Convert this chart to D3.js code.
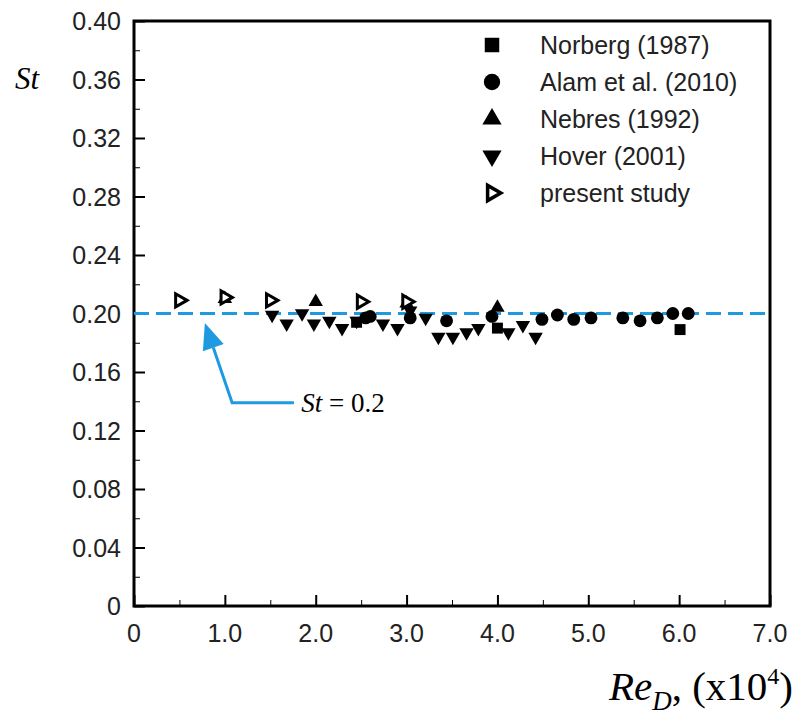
<!DOCTYPE html>
<html>
<head>
<meta charset="utf-8">
<script src="https://cdn.jsdelivr.net/npm/d3@7"></script>
<style>
  body { margin: 0; background: #fff; }
  svg text { font-family: "Liberation Sans", Arial, sans-serif; }
</style>
</head>
<body>
<div id="chart"></div>
<script>
// data: [Re_D (x10^4), St]
var norberg = [[2.45, 0.194], [4.0, 0.190], [6.01, 0.189]];
var alam = [[2.55, 0.197], [2.6, 0.198], [3.04, 0.197], [3.44, 0.195], [3.94, 0.198], [4.49, 0.196],
            [4.66, 0.199], [4.84, 0.196], [5.03, 0.197], [5.38, 0.197], [5.57, 0.195],
            [5.76, 0.197], [5.93, 0.200], [6.1, 0.200]];
var nebres = [[1.0, 0.210], [2.0, 0.208], [3.0, 0.207], [4.0, 0.204]];
var hover = [[1.52, 0.199], [1.68, 0.193], [1.85, 0.200], [1.98, 0.193], [2.15, 0.195], [2.29, 0.190],
             [2.45, 0.195], [2.74, 0.193], [2.9, 0.190], [3.04, 0.202], [3.21, 0.197], [3.35, 0.184],
             [3.51, 0.184], [3.66, 0.187], [3.79, 0.190], [4.12, 0.187], [4.28, 0.192], [4.42, 0.184]];
var present = [[0.5, 0.209], [1.0, 0.211], [1.5, 0.209], [2.5, 0.208], [3.0, 0.208]];

var xTicks = [0, 1, 2, 3, 4, 5, 6, 7];
var xTickLabels = ["0", "1.0", "2.0", "3.0", "4.0", "5.0", "6.0", "7.0"];
var yTicks = [0, 0.04, 0.08, 0.12, 0.16, 0.2, 0.24, 0.28, 0.32, 0.36, 0.4];
var yTickLabels = ["0", "0.04", "0.08", "0.12", "0.16", "0.20", "0.24", "0.28", "0.32", "0.36", "0.40"];
var refSt = 0.2;
var legendNames = ["Norberg (1987)", "Alam et al. (2010)", "Nebres (1992)", "Hover (2001)", "present study"];

var width = 800, height = 719;
var svg = d3.select("#chart").append("svg").attr("width", width).attr("height", height);
var serif = "'Liberation Serif', 'Times New Roman', serif";

var x = d3.scaleLinear().domain([0, 7]).range([134, 770]);
var y = d3.scaleLinear().domain([0, 0.4]).range([606, 21]);

// minor + major ticks, all pointing inward
var xMinor = d3.range(0.5, 7, 1);
var yMinor = d3.range(0.02, 0.4, 0.04);

svg.append("g").attr("transform", "translate(0,606)")
    .call(d3.axisTop(x).tickValues(xMinor).tickSize(6).tickFormat(""))
    .call(g => g.select(".domain").remove())
    .selectAll("line").attr("stroke", "#000").attr("stroke-width", 1);
svg.append("g").attr("transform", "translate(0,606)")
    .call(d3.axisTop(x).tickValues(xTicks).tickSize(11).tickFormat(""))
    .call(g => g.select(".domain").remove())
    .selectAll("line").attr("stroke", "#000").attr("stroke-width", 2);
svg.append("g").attr("transform", "translate(134,0)")
    .call(d3.axisRight(y).tickValues(yMinor).tickSize(6).tickFormat(""))
    .call(g => g.select(".domain").remove())
    .selectAll("line").attr("stroke", "#000").attr("stroke-width", 1);
svg.append("g").attr("transform", "translate(134,0)")
    .call(d3.axisRight(y).tickValues(yTicks).tickSize(11).tickFormat(""))
    .call(g => g.select(".domain").remove())
    .selectAll("line").attr("stroke", "#000").attr("stroke-width", 2);

// tick labels
svg.append("g").selectAll("text").data(xTicks).enter().append("text")
    .attr("x", d => x(d)).attr("y", 642)
    .attr("text-anchor", "middle").attr("font-size", 25).attr("fill", "#222")
    .text((d, i) => xTickLabels[i]);
svg.append("g").selectAll("text").data(yTicks).enter().append("text")
    .attr("x", 121).attr("y", d => y(d) + 9)
    .attr("text-anchor", "end").attr("font-size", 25).attr("fill", "#222")
    .text((d, i) => yTickLabels[i]);

// frame
svg.append("rect").attr("x", 134).attr("y", 21).attr("width", 636).attr("height", 585)
    .attr("fill", "none").attr("stroke", "#000").attr("stroke-width", 3);

// reference line St = 0.2
var blue = "#1f9ae0";
svg.append("line")
    .attr("x1", x(0)).attr("x2", x(7)).attr("y1", y(refSt)).attr("y2", y(refSt))
    .attr("stroke", blue).attr("stroke-width", 3).attr("stroke-dasharray", "15,7");

// markers
var sq = d3.symbol().type(d3.symbolSquare).size(120);
var ci = d3.symbol().type(d3.symbolCircle).size(130);
var tr = d3.symbol().type(d3.symbolTriangle).size(90);
var rt = d3.symbol().type(d3.symbolTriangle).size(75);

function plot(data, path, rot, fill, stroke) {
    svg.append("g").selectAll("path").data(data).enter().append("path")
        .attr("d", path)
        .attr("transform", d => "translate(" + x(d[0]) + "," + y(d[1]) + ") rotate(" + rot + ")")
        .attr("fill", fill).attr("stroke", stroke).attr("stroke-width", stroke == "none" ? 0 : 3);
}
plot(hover, tr, 180, "#000", "none");
plot(norberg, sq, 0, "#000", "none");
plot(alam, ci, 0, "#000", "none");
plot(nebres, tr, 0, "#000", "none");
plot(present, rt, 90, "#fff", "#000");

// annotation arrow
var ann = [[1.76, 0.139], [1.08, 0.139], [0.78, 0.1935]];
var tip = [x(ann[2][0]), y(ann[2][1])];
var ang = Math.atan2(y(ann[1][1]) - tip[1], x(ann[1][0]) - tip[0]);
var hl = 26, hw = 11;
var bx = tip[0] + hl * Math.cos(ang), by = tip[1] + hl * Math.sin(ang);
svg.append("path")
    .attr("d", d3.line()([[x(ann[0][0]), y(ann[0][1])], [x(ann[1][0]), y(ann[1][1])], [bx, by]]))
    .attr("fill", "none").attr("stroke", blue).attr("stroke-width", 3);
svg.append("path")
    .attr("d", "M" + tip[0] + "," + tip[1] +
        "L" + (bx - hw * Math.sin(ang)) + "," + (by + hw * Math.cos(ang)) +
        "L" + (bx + hw * Math.sin(ang)) + "," + (by - hw * Math.cos(ang)) + "Z")
    .attr("fill", blue);

var annText = svg.append("text").attr("x", x(1.84)).attr("y", y(0.139) + 9)
    .attr("font-size", 27).style("font-family", serif);
annText.append("tspan").attr("font-style", "italic").text("St");
annText.append("tspan").text(" = 0.2");

// axis titles
svg.append("text").attr("x", 15).attr("y", 89).attr("font-size", 31)
    .style("font-family", serif).attr("font-style", "italic").text("St");

var xt = svg.append("text").attr("x", 793).attr("y", 700).attr("text-anchor", "end")
    .attr("font-size", 41).style("font-family", serif);
xt.append("tspan").attr("font-style", "italic").text("Re");
xt.append("tspan").attr("font-style", "italic").attr("font-size", 27).attr("dy", 10).text("D");
xt.append("tspan").attr("dy", -10).text(", (x10");
xt.append("tspan").attr("font-size", 24).attr("dy", -16).text("4");
xt.append("tspan").attr("dy", 16).text(")");

// legend
var legY = d3.scalePoint().domain(legendNames).range([45, 193]);
var legShapes = [
    {p: d3.symbol().type(d3.symbolSquare).size(210), r: 0, f: "#000", s: "none"},
    {p: d3.symbol().type(d3.symbolCircle).size(210), r: 0, f: "#000", s: "none"},
    {p: d3.symbol().type(d3.symbolTriangle).size(160), r: 0, f: "#000", s: "none"},
    {p: d3.symbol().type(d3.symbolTriangle).size(160), r: 180, f: "#000", s: "none"},
    {p: d3.symbol().type(d3.symbolTriangle).size(100), r: 90, f: "#fff", s: "#000"}
];
var leg = svg.append("g").selectAll("g").data(legendNames).enter().append("g")
    .attr("transform", d => "translate(0," + legY(d) + ")");
leg.append("path")
    .attr("d", (d, i) => legShapes[i].p())
    .attr("transform", (d, i) => "translate(492,0) rotate(" + legShapes[i].r + ")")
    .attr("fill", (d, i) => legShapes[i].f)
    .attr("stroke", (d, i) => legShapes[i].s)
    .attr("stroke-width", (d, i) => legShapes[i].s == "none" ? 0 : 3.5);
leg.append("text").attr("x", 540).attr("y", 9).attr("font-size", 25).attr("fill", "#222")
    .text(d => d);
</script>
</body>
</html>
